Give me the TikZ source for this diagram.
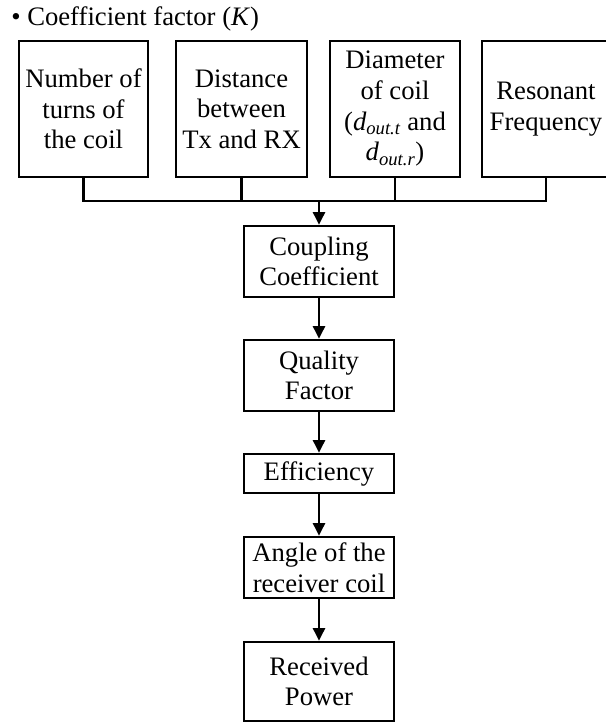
\documentclass[tikz,border=0pt]{standalone}
\usepackage{fontspec}
\setmainfont{Liberation Serif}
\usetikzlibrary{arrows.meta}
\begin{document}
\begin{tikzpicture}[x=0.75pt,y=-0.75pt,
  every node/.style={font=\fontsize{20}{23}\selectfont},
  box/.style={draw,line width=1.9pt,inner sep=0pt,align=center},
  topbox/.style={box,minimum height=102pt},
  midbox/.style={box,minimum width=112.5pt},
  conn/.style={line width=1.9pt},
  flow/.style={conn,-{Triangle[width=9pt,length=9.5pt]}}]
\useasboundingbox (0,0) rectangle (606,722);
\node[anchor=base west,inner sep=0pt] (title) at (11,25) {\textbullet\ Coefficient factor (\textit{K})};
\node[topbox,minimum width=96.75pt] (b1) at (83.5,109) {Number of\\turns of\\the coil};
\node[topbox,minimum width=98.25pt] (b2) at (241.5,109) {Distance\\between\\Tx and RX};
\node[topbox,minimum width=97.5pt] (b3) at (395,109) {Diameter\\of coil\\(\textit{d\textsubscript{out.t}} and\\\textit{d\textsubscript{out.r}})};
\node[topbox,minimum width=96pt] (b4) at (546,109) {Resonant\\Frequency};
\coordinate (jn) at (319,201);
\node[midbox,minimum height=53.25pt] (cc) at (319,261.5) {Coupling\\Coefficient};
\node[midbox,minimum height=53.25pt] (qf) at (319,375.5) {Quality\\Factor};
\node[midbox,minimum height=29.25pt] (ef) at (319,473.5) {Efficiency};
\node[midbox,minimum height=45.75pt] (an) at (319,567.5) {Angle of the\\receiver coil};
\node[midbox,minimum height=59.25pt] (rp) at (319,681.5) {Received\\Power};
\draw[conn] (b1.south) |- (jn);
\draw[conn] (b4.south) |- (jn);
\draw[conn] (b2.south) -- (b2.south |- jn);
\draw[conn] (b3.south) -- (b3.south |- jn);
\draw[flow] (jn) -- (cc.north);
\draw[flow] (cc) -- (qf);
\draw[flow] (qf) -- (ef);
\draw[flow] (ef) -- (an);
\draw[flow] (an) -- (rp);
\end{tikzpicture}
\end{document}
